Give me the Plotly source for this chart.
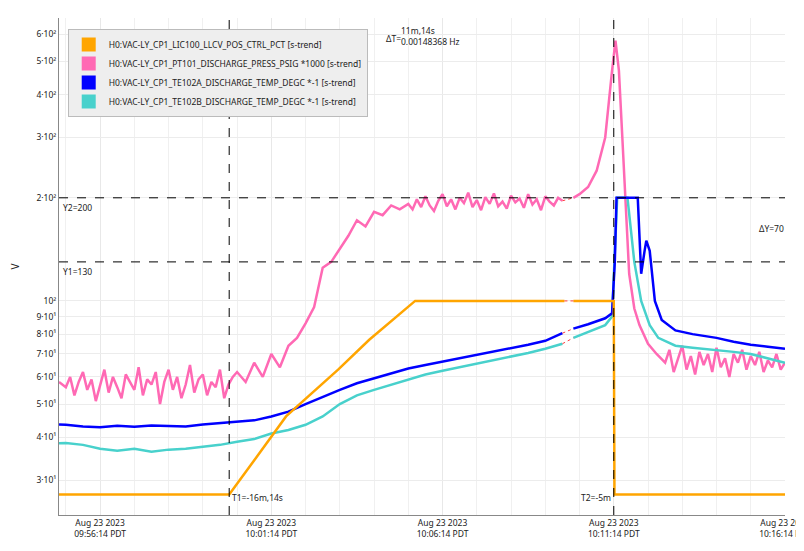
import plotly.graph_objects as go
import pandas as pd
import math

BASE = pd.Timestamp("2023-08-23 09:55:14")

# minute offsets from 09:55:14 and values
orange_t = [-0.2, 4.77, 6.43, 7.95, 8.86, 10.2, 14.56, None, 14.82, 16.0, 16.02, 21]
orange_v = [27.2, 27.2, 46, 63, 77, 100, 100, None, 100, 100, 27.2, 27.2]

pink_t = [-0.2] + [i*0.125 for i in range(39)] + [4.875] + [5.0+i*0.25 for i in range(20)] + [10.0+i*0.125 for i in range(37)] + [None] + \
    [14.82, 15.0, 15.25, 15.5, 15.75, 15.85, 15.95, 16.05, 16.15, 16.25, 16.35, 16.45, 16.6, 16.75, 17.0, 17.25] + \
    [17.5+i*0.125 for i in range(29)]
pink_v = [58] + [56,60,53,58,62,55,59,51,57,63,54,60,56,52,61,58,55,64,53,59,57,62,50,58,63,55,60,52,57,65,54,59,61,53,58,56,63,52,57] + [60] + \
    [62,58,66,60,70,64,74,78,86,96,125,130,142,155,172,165,182,178,190,185] + \
    [192,185,198,188,202,190,183,196,205,189,198,185,200,193,207,188,197,184,201,192,206,189,195,186,203,194,199,187,205,191,198,184,202,195,190,200,196] + [None] + \
    [200,205,215,240,300,380,470,575,470,300,190,120,95,85,75,70] + \
    [66,72,62,68,74,63,69,61,71,65,70,62,73,64,68,60,70,66,72,63,69,65,71,62,67,64,70,63,66]

blue_t = [-0.2] + [i*0.5 for i in range(30)] + [None, 14.82, 15.25, 15.75, 15.95, 16.03, 16.08, 16.7, 16.8, 16.9, 16.95, 17.05, 17.2, 17.4, 17.8, 18.3, 19, 19.5, 20, 20.5, 21]
blue_v = [43.6] + [43.5,43,42.8,43.2,42.9,43.3,43.1,43,43.6,44,44.2,44.8,46,47.5,50,52.5,55,57.5,59.5,61.5,63.5,65,66.5,68,69.5,71,72.5,74.5,76.5,80.5] + \
    [None, 83, 85.5, 89, 92, 130, 200, 200, 120, 140, 150, 140, 100, 88, 82, 80, 78, 76, 74.5, 73.5, 72.5]

teal_t = [-0.2] + [i*0.5 for i in range(30)] + [None, 14.82, 15.25, 15.75, 15.95, 16.1, 16.4, 16.6, 16.8, 17.05, 17.3, 17.8, 18.3, 19, 19.5, 20, 20.5, 21]
teal_v = [38.4] + [38.5,38,37,36.5,37,36.3,36.8,37,37.5,38,38.8,39.5,41,42,43.5,46,50,53,55,57,59,61,62.5,64,65.5,67,68.5,70.5,72.5,75] + \
    [None, 78, 81, 85, 90, 200, 200, 130, 100, 85, 78, 74, 73, 72, 71, 70, 68, 66]

names = ["H0:VAC-LY_CP1_LIC100_LLCV_POS_CTRL_PCT [s-trend]",
         "H0:VAC-LY_CP1_PT101_DISCHARGE_PRESS_PSIG *1000 [s-trend]",
         "H0:VAC-LY_CP1_TE102A_DISCHARGE_TEMP_DEGC *-1 [s-trend]",
         "H0:VAC-LY_CP1_TE102B_DISCHARGE_TEMP_DEGC *-1 [s-trend]"]
colors = ["#FFA500", "#FF69B4", "#0000FF", "#48D1CC"]
series = [(orange_t, orange_v), (pink_t, pink_v), (blue_t, blue_v), (teal_t, teal_v)]

ytick_vals = [30, 40, 50, 60, 70, 80, 90, 100, 200, 300, 400, 500, 600]
ytick_text = ["3·10¹", "4·10¹", "5·10¹", "6·10¹", "7·10¹", "8·10¹", "9·10¹", "10²", "2·10²", "3·10²", "4·10²", "5·10²", "6·10²"]
xtick_min = [1, 6, 11, 16, 21]
xtick_text = ["Aug 23 2023<br>09:56:14 PDT", "Aug 23 2023<br>10:01:14 PDT", "Aug 23 2023<br>10:06:14 PDT",
              "Aug 23 2023<br>10:11:14 PDT", "Aug 23 2023<br>10:16:14 PDT"]

def tt(m):
    return None if m is None else BASE + pd.Timedelta(minutes=m)

fig = go.Figure()
for idx in [1, 3, 2, 0]:
    t, v = series[idx]
    fig.add_trace(go.Scatter(x=[tt(m) for m in t], y=v, mode="lines", line=dict(color=colors[idx], width=2.5),
                             showlegend=False, connectgaps=False))
    gi = t.index(None)
    fig.add_trace(go.Scatter(x=[tt(t[gi-1]), tt(t[gi+1])], y=[v[gi-1], v[gi+1]], mode="lines",
                             line=dict(color="#FF4040", width=1, dash="dot"), showlegend=False))
for i in range(4):
    fig.add_trace(go.Scatter(x=[None], y=[None], mode="markers", name=names[i],
                             marker=dict(symbol="square", size=14, color=colors[i])))

T1 = tt(4.77); T2 = tt(16.0)
for tx in [T1, T2]:
    fig.add_shape(type="line", x0=tx, x1=tx, y0=0, y1=1, yref="paper", line=dict(color="black", width=1, dash="dash"))
for yv in [200, 130]:
    fig.add_shape(type="line", x0=0, x1=1, xref="paper", y0=yv, y1=yv, line=dict(color="black", width=1, dash="dash"))

ann = dict(showarrow=False, font=dict(size=8.5, color="#222"), xanchor="left")
fig.add_annotation(x=0.003, xref="paper", y=math.log10(200), yanchor="top", yshift=-2, text="Y2=200", **ann)
fig.add_annotation(x=0.003, xref="paper", y=math.log10(130), yanchor="top", yshift=-2, text="Y1=130", **ann)
fig.add_annotation(x=0.962, xref="paper", y=0.577, yref="paper", text="ΔY=70", **ann)
fig.add_annotation(x=0.448, xref="paper", y=0.958, yref="paper", yanchor="middle", text="ΔT=", **ann)
fig.add_annotation(x=0.469, xref="paper", y=0.99, yref="paper", yanchor="top", align="left",
                   text="11m,14s<br>0.00148368 Hz", **ann)
fig.add_annotation(x=T1, y=0.02, yref="paper", xshift=1, text="T1=-16m,14s", **ann)
fig.add_annotation(x=T2, y=0.02, yref="paper", xshift=-35, text="T2=-5m", **ann)

fig.update_layout(
    width=804, height=551, margin=dict(l=51, r=27, t=10, b=44),
    paper_bgcolor="white", plot_bgcolor="white",
    font=dict(family="Noto Sans", size=8.5, color="#222"),
    legend=dict(x=0.012, y=0.978, xanchor="left", yanchor="top", bgcolor="#eeeeee",
                bordercolor="#bbbbbb", borderwidth=1, font=dict(size=8.5), tracegroupgap=4),
    xaxis=dict(range=[tt(-0.2), tt(21)], tickvals=[tt(m) for m in xtick_min], ticktext=xtick_text, automargin=False,
               showgrid=True, gridcolor="#e8e8e8", showline=True, linecolor="#888", ticks="",
               minor=dict(dtick=60000, showgrid=True, gridcolor="#f0f0f0", tick0=BASE)),
    yaxis=dict(type="log", range=[1.375, 2.826], tickvals=ytick_vals, ticktext=ytick_text, automargin=False,
               showgrid=True, gridcolor="#ececec", showline=True, linecolor="#888", ticks="",
               title=dict(text="V", standoff=22), zeroline=False),
)
fig.write_html("out.html")
